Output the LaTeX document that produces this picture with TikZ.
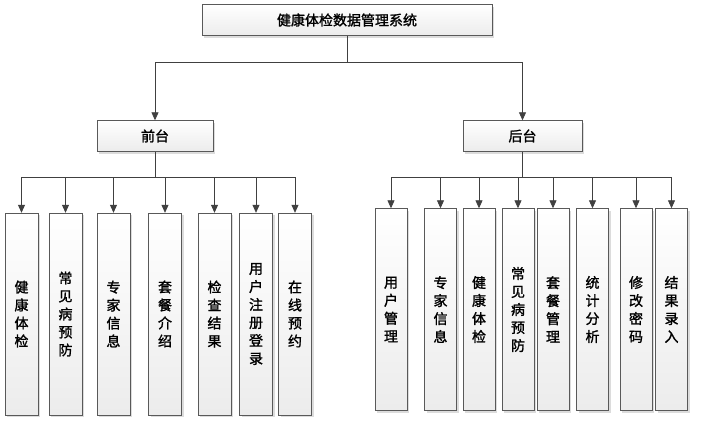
\documentclass[tikz,border=0pt]{standalone}
\usepackage{fontspec}
\setmainfont{Noto Sans CJK SC}[AutoFakeBold=1.5]
\usepackage{tikz}
\usetikzlibrary{arrows.meta, positioning, shadows}

\begin{document}
\begin{tikzpicture}[
  x=1pt, y=-1pt,
  box/.style = {rectangle, draw=gray!70!black, top color=white, bottom color=gray!15,
                drop shadow={shadow xshift=2pt, shadow yshift=-2pt, fill=gray!55},
                align=center, inner sep=0pt, font=\fontsize{14}{18}\selectfont\bfseries},
  hbox/.style = {box, minimum height=31pt},
  vbox/.style = {box, minimum width=33pt, minimum height=202pt},
  link/.style = {draw=black!75, line width=0.8pt},
  arr/.style = {link, -{Triangle[width=7pt,length=8pt]}}
]
  \useasboundingbox (0,0) rectangle (717,424);

  % top level
  \node[hbox, minimum width=290pt] (sys)   at (347,20)    {健康体检数据管理系统};
  \node[hbox, minimum width=116pt] (front) at (155,136)   {前台};
  \node[hbox, minimum width=119pt] (back)  at (522.5,136) {后台};

  \coordinate (sysbus)   at (347,62);
  \coordinate (frontbus) at (155,177);
  \coordinate (backbus)  at (522.5,177);

  % front end modules
  \node[vbox] (fa1) at (21.5,314)  {健\\康\\体\\检};
  \node[vbox] (fa2) at (65.5,314)  {常\\见\\病\\预\\防};
  \node[vbox] (fa3) at (113.5,314) {专\\家\\信\\息};
  \node[vbox] (fa4) at (165,314)   {套\\餐\\介\\绍};
  \node[vbox] (fa5) at (214.5,314) {检\\查\\结\\果};
  \node[vbox] (fa6) at (256,314)   {用\\户\\注\\册\\登\\录};
  \node[vbox] (fa7) at (295,314)   {在\\线\\预\\约};

  % back end modules
  \node[vbox, minimum width=32pt] (ba1) at (391,309.5)   {用\\户\\管\\理};
  \node[vbox, minimum width=32pt] (ba2) at (440.5,309.5) {专\\家\\信\\息};
  \node[vbox, minimum width=32pt] (ba3) at (479,309.5)   {健\\康\\体\\检};
  \node[vbox, minimum width=32pt] (ba4) at (518,309.5)   {常\\见\\病\\预\\防};
  \node[vbox, minimum width=32pt] (ba5) at (553,309.5)   {套\\餐\\管\\理};
  \node[vbox, minimum width=32pt] (ba6) at (592.5,309.5) {统\\计\\分\\析};
  \node[vbox, minimum width=32pt] (ba7) at (636,309.5)   {修\\改\\密\\码};
  \node[vbox, minimum width=32pt] (ba8) at (671.5,309.5) {结\\果\\录\\入};

  \draw[link] (sys) -- (sysbus);
  \draw[arr] (sysbus) -| (front);
  \draw[arr] (sysbus) -| (back);

  \draw[link] (front) -- (frontbus);
  \draw[arr] (frontbus) -| (fa1);
  \draw[arr] (frontbus) -| (fa2);
  \draw[arr] (frontbus) -| (fa3);
  \draw[arr] (frontbus) -| (fa4);
  \draw[arr] (frontbus) -| (fa5);
  \draw[arr] (frontbus) -| (fa6);
  \draw[arr] (frontbus) -| (fa7);

  \draw[link] (back) -- (backbus);
  \draw[arr] (backbus) -| (ba1);
  \draw[arr] (backbus) -| (ba2);
  \draw[arr] (backbus) -| (ba3);
  \draw[arr] (backbus) -| (ba4);
  \draw[arr] (backbus) -| (ba5);
  \draw[arr] (backbus) -| (ba6);
  \draw[arr] (backbus) -| (ba7);
  \draw[arr] (backbus) -| (ba8);
\end{tikzpicture}
\end{document}
